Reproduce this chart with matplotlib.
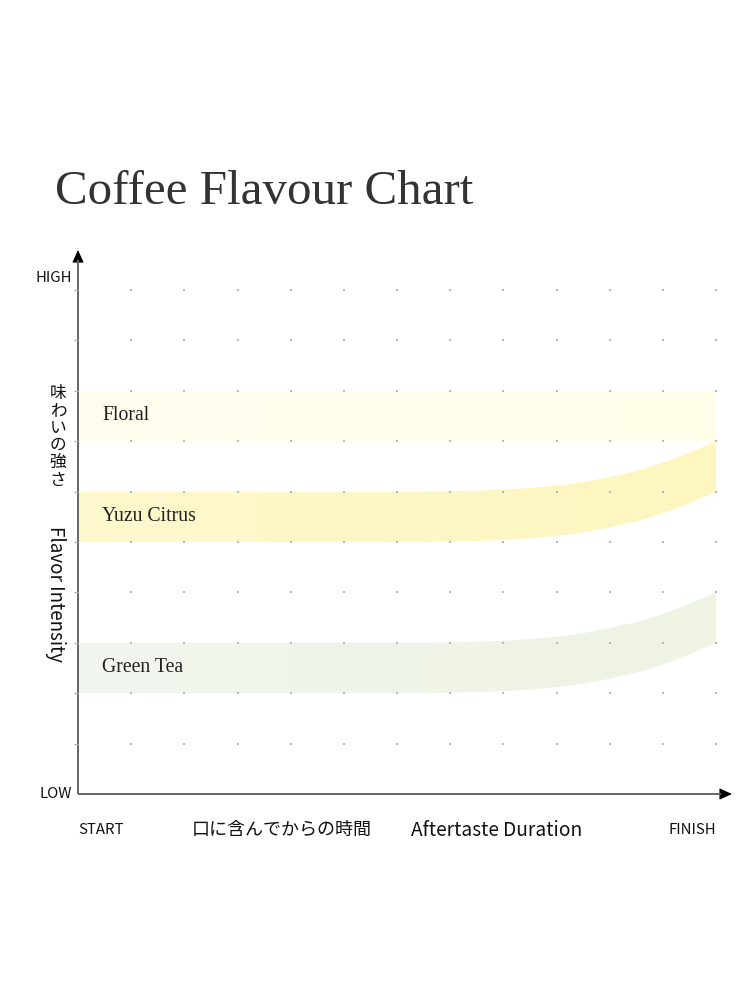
import numpy as np
import matplotlib
matplotlib.use("Agg")
import matplotlib.pyplot as plt
from matplotlib.patches import Polygon
from matplotlib.colors import LinearSegmentedColormap

# === Dados ===
title = "Coffee Flavour Chart"
band_names = ["Floral", "Yuzu Citrus", "Green Tea"]
x_pts = [0, 1, 2, 3, 4, 5, 6, 6.5, 7, 7.5, 8, 8.5, 9, 9.5, 10, 10.5, 11, 11.5, 12]
floral_low = [7.0] * 19
yuzu_low = [5.0, 5.0, 5.0, 5.0, 5.0, 5.0, 5.0, 5.0, 5.01, 5.02, 5.04, 5.07,
            5.12, 5.19, 5.29, 5.41, 5.57, 5.77, 6.0]
green_low = [2.0, 2.0, 2.0, 2.0, 2.0, 2.0, 2.0, 2.0, 2.01, 2.02, 2.04, 2.07,
             2.12, 2.19, 2.29, 2.41, 2.57, 2.77, 3.0]
band_width = 1.0
band_left = ["#fffdef", "#fdf8cd", "#f1f6ef"]
band_right = ["#fffce8", "#fdf6bf", "#eef3e2"]
y_labels = ["HIGH", "LOW"]
x_labels = ["START", "FINISH"]
x_title_jp = "口に含んでからの時間"
x_title_en = "Aftertaste Duration"
y_title_jp = "味わいの強さ"
y_title_en = "Flavor Intensity"

sans = ["Noto Sans CJK JP", "DejaVu Sans"]
serif = "Liberation Serif"

W, H = 750, 1000
fig = plt.figure(figsize=(7.5, 10), dpi=100)
fig.patch.set_facecolor("white")

# eixos: origem em (78, 794) px, 53.17 px por coluna, 50.4 px por linha
ax = fig.add_axes([78 / W, 206 / H, 654 / W, 544 / H])
ax.set_xlim(0, 654 / 53.17)
ax.set_ylim(0, 544 / 50.4)
ax.axis("off")

# === Faixas ===
lows = [floral_low, yuzu_low, green_low]
for name, low, c0, c1 in zip(band_names, lows, band_left, band_right):
    low = np.array(low)
    xs = np.concatenate([x_pts, x_pts[::-1]])
    ys = np.concatenate([low, (low + band_width)[::-1]])
    poly = Polygon(np.column_stack([xs, ys]), closed=True,
                   facecolor="none", edgecolor="none")
    ax.add_patch(poly)
    cmap = LinearSegmentedColormap.from_list(name, [c0, c1])
    grad = np.linspace(0, 1, 256).reshape(1, -1)
    im = ax.imshow(grad, cmap=cmap, aspect="auto",
                   extent=(0, 12, low.min(), low.max() + band_width),
                   interpolation="bilinear", zorder=1)
    im.set_clip_path(poly)
    ax.text(0.45, low[0] + band_width / 2, name, fontfamily=serif,
            fontsize=14.2, color="#222222", va="center", ha="left", zorder=3)

# === Pontos da grade ===
gx, gy = np.meshgrid(np.arange(0, 13), np.arange(1, 11))
ax.scatter(gx.ravel(), gy.ravel(), s=4, marker="s", color="#b8b8b8",
           linewidths=0, zorder=2)
# pequenos traços no eixo y
ax.scatter(np.full(10, -0.04), np.arange(1, 11), s=6, marker="_",
           color="#b0b0b0", linewidths=1, zorder=5, clip_on=False)

# === Eixos com setas ===
ax.plot([0, 12.1], [0, 0], color="#666666", lw=1.4, zorder=4,
        solid_capstyle="butt", clip_on=False)
ax.plot([0, 0], [0, 10.6], color="#666666", lw=1.4, zorder=4,
        solid_capstyle="butt", clip_on=False)
astyle = "-|>,head_length=0.55,head_width=0.25"
ax.annotate("", xy=(654 / 53.17, 0), xytext=(12.05, 0),
            arrowprops=dict(arrowstyle=astyle, color="black", lw=0.8,
                            mutation_scale=14, shrinkA=0, shrinkB=0))
ax.annotate("", xy=(0, 544 / 50.4), xytext=(0, 10.55),
            arrowprops=dict(arrowstyle=astyle, color="black", lw=0.8,
                            mutation_scale=14, shrinkA=0, shrinkB=0))

# === Textos ===
fig.text(55 / W, 1 - 204 / H, title, fontfamily=serif, fontsize=35.3,
         color="#333333", ha="left", va="baseline")

fig.text(72 / W, 1 - 278 / H, y_labels[0], family=sans, fontsize=10.8,
         ha="right", va="center", color="#111111")
fig.text(72 / W, 1 - 794 / H, y_labels[1], family=sans, fontsize=10.8,
         ha="right", va="center", color="#111111")
fig.text(78 / W, 1 - 830 / H, x_labels[0], family=sans, fontsize=10.8,
         ha="left", va="center", color="#111111")
fig.text(716 / W, 1 - 830 / H, x_labels[1], family=sans, fontsize=10.8,
         ha="right", va="center", color="#111111")

fig.text(282 / W, 1 - 830 / H, x_title_jp, family=sans, fontsize=13,
         ha="center", va="center", color="#111111")
fig.text(497 / W, 1 - 830 / H, x_title_en, family=sans, fontsize=13.8,
         ha="center", va="center", color="#111111")

fig.text(58 / W, 1 - 437 / H, "\n".join(y_title_jp), family=sans,
         fontsize=12, ha="center", va="center", color="#111111",
         linespacing=1.02)
fig.text(55 / W, 1 - 594 / H, y_title_en, family=sans, fontsize=13.5,
         ha="center", va="center", rotation=270, color="#111111")

fig.savefig("out.png", dpi=100, facecolor="white")
